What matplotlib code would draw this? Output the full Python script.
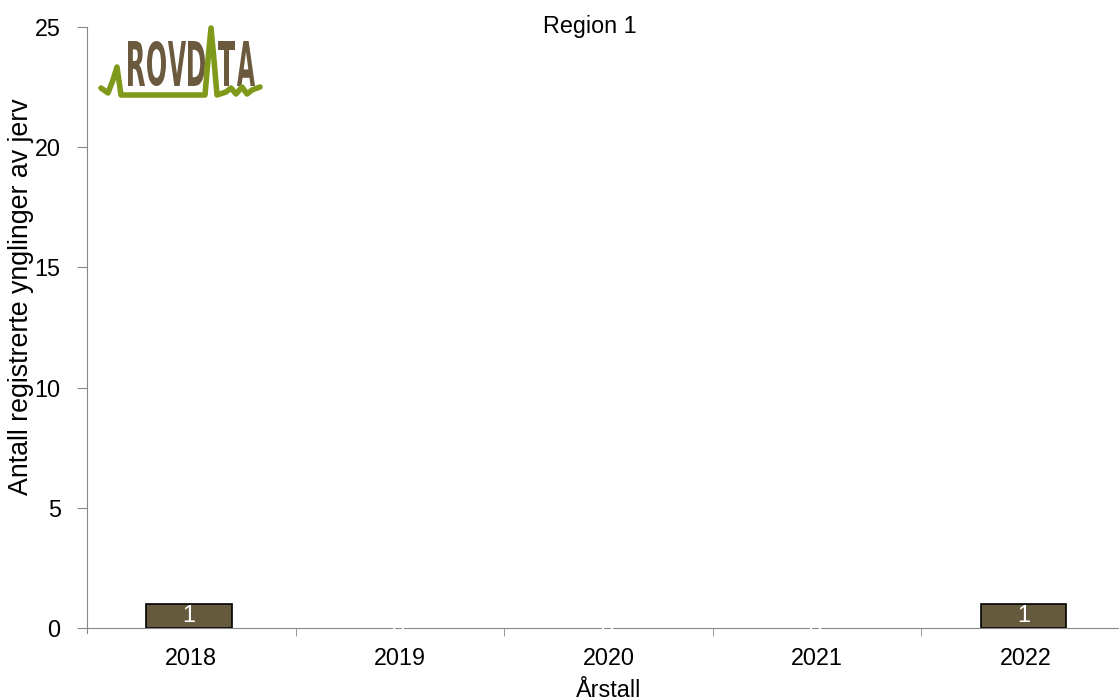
import matplotlib.pyplot as plt
import numpy as np
from matplotlib.lines import Line2D
from matplotlib.textpath import TextPath
from matplotlib.font_manager import FontProperties
from matplotlib.patches import PathPatch
from matplotlib.path import Path

# data
years = ['2018', '2019', '2020', '2021', '2022']
ynglinger = [1, 0, 0, 0, 1]

plt.rcParams['font.family'] = ['Liberation Sans', 'DejaVu Sans']
fs = 16.8

fig = plt.figure(figsize=(11.19, 7), dpi=100)
ax = fig.add_axes([87/1119, 72/700, 1043/1119, 601/700])

x = np.arange(len(years))
edges = ['black' if v > 0 else 'none' for v in ynglinger]
ax.bar(x - 0.01, ynglinger, width=0.41, color='#665a3e', edgecolor=edges, linewidth=1.2)
for xi, v in zip(x, ynglinger):
    ax.text(xi - 0.01, v/2, str(v), color='white', ha='center', va='center', fontsize=fs, zorder=5)

ax.set_xlim(-0.5, 4.5)
ax.set_ylim(0, 25)
ax.set_yticks([0, 5, 10, 15, 20, 25])
ax.set_xticks(x)
ax.set_xticklabels(years)
ax.set_xticks(np.arange(0.5, 4.5, 1), minor=True)
ax.tick_params(axis='x', which='major', length=0, pad=14, labelsize=fs)
ax.tick_params(axis='x', which='minor', length=6, color='#888888', direction='out')
ax.tick_params(axis='y', length=7, color='#888888', pad=12, labelsize=fs)

for s in ['top', 'right']:
    ax.spines[s].set_visible(False)
ax.spines['left'].set_color('#888888')
ax.spines['bottom'].set_color('#888888')
ax.spines['left'].set_bounds(-0.2, 25)
ax.spines['bottom'].set_zorder(1)

ax.set_xlabel('Årstall', fontsize=fs, labelpad=6)
fig.text(21/1119, 1 - 297/700, 'Antall registrerte ynglinger av jerv', rotation=90,
         ha='center', va='center', fontsize=19.3)
fig.text(590/1119, 1 - 27/700, 'Region 1', ha='center', va='center', fontsize=fs)

# logo
def fx(px):
    return px/1119
def fy(py):
    return 1 - py/700

lx = [101, 108, 113, 117, 121, 205, 208, 211, 214, 217, 226, 231, 236, 242, 247, 252, 260]
ly = [88, 93, 80, 67, 95, 95, 60, 28, 60, 95, 92, 88, 94, 87, 94, 90, 87]
fig.add_artist(Line2D([fx(p) for p in lx], [fy(p) for p in ly], color='#7f9a1a', lw=4,
                      solid_joinstyle='round', solid_capstyle='round'))

fp = FontProperties(family='DejaVu Sans', weight='bold')
letters = [('R', 128, 145), ('O', 147, 166), ('V', 168, 186), ('D', 188, 205),
           ('T', 218, 235), ('A', 237, 255)]
for ch, x0, x1 in letters:
    tp = TextPath((0, 0), ch, size=1, prop=fp)
    ext = tp.get_extents()
    v = tp.vertices.copy()
    v[:, 0] = fx(x0 + (v[:, 0] - ext.x0) / ext.width * (x1 - x0))
    v[:, 1] = fy(86 - (v[:, 1] - ext.y0) / ext.height * 45)
    fig.add_artist(PathPatch(Path(v, tp.codes), facecolor='#6b5a3e', edgecolor='none',
                             transform=fig.transFigure))

fig.savefig('out.png', dpi=100)
